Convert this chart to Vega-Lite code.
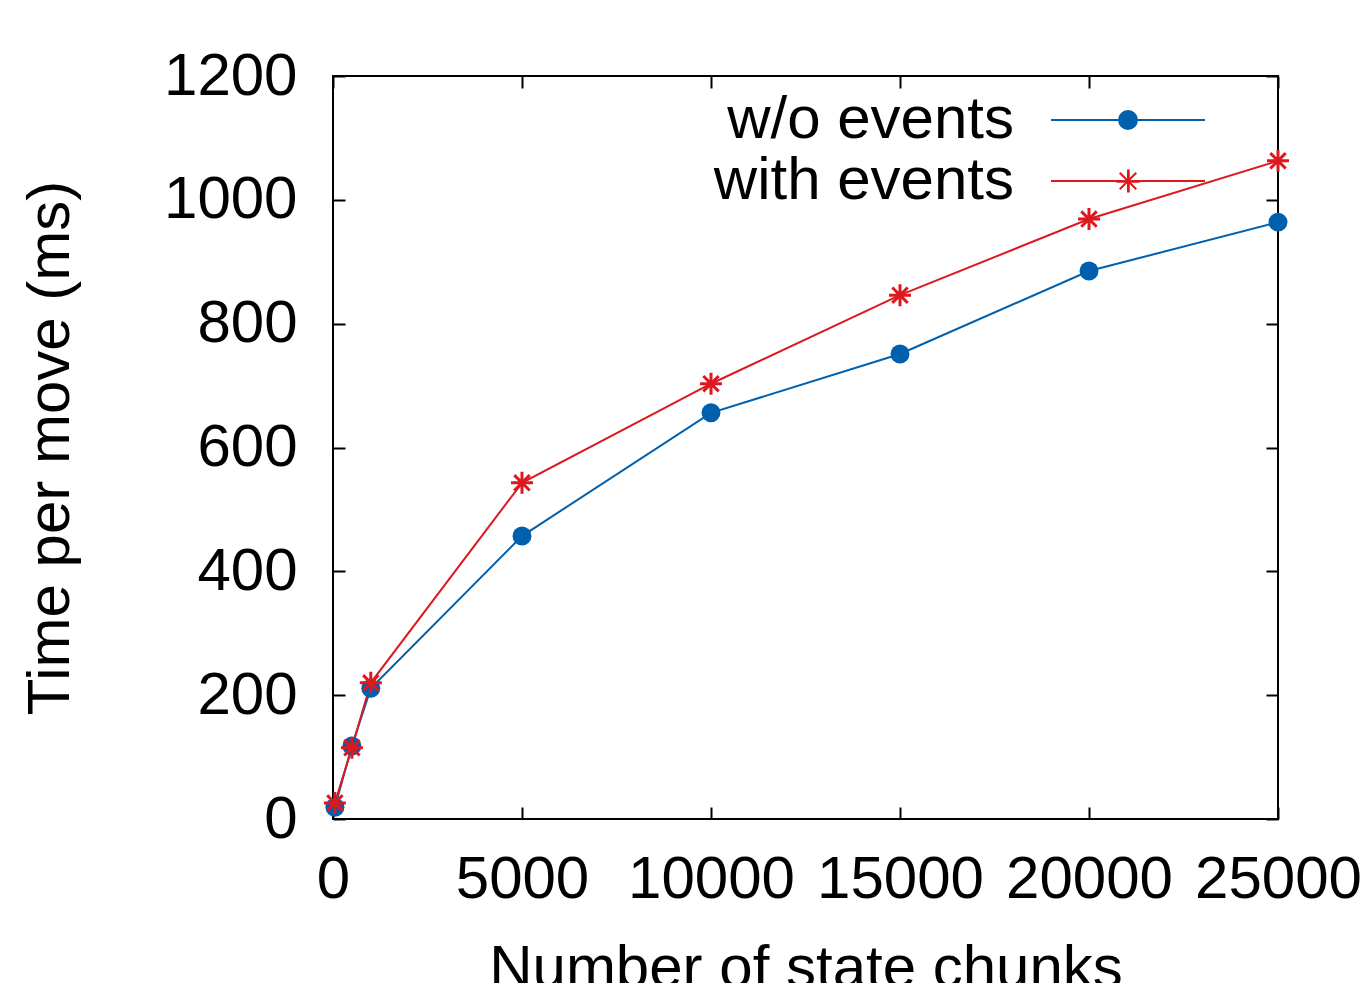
{
  "$schema": "https://vega.github.io/schema/vega-lite/v6.json",
  "width": 945,
  "height": 743,
  "autosize": "none",
  "padding": {"left": 333, "top": 76, "right": 93, "bottom": 164},
  "background": "white",
  "config": {
    "font": "Liberation Sans",
    "view": {"stroke": "black", "strokeWidth": 2},
    "axis": {
      "domain": false,
      "grid": false,
      "ticks": true,
      "tickColor": "black",
      "tickWidth": 2,
      "tickSize": -12,
      "labelFont": "Liberation Sans",
      "labelFontSize": 60,
      "labelColor": "black",
      "titleFont": "Liberation Sans",
      "titleFontSize": 60,
      "titleFontWeight": "normal",
      "titleColor": "black"
    }
  },
  "data": {
    "values": [
      {"series": "w/o events", "chunks": 50, "time": 19},
      {"series": "w/o events", "chunks": 500, "time": 118},
      {"series": "w/o events", "chunks": 1000, "time": 211},
      {"series": "w/o events", "chunks": 5000, "time": 457},
      {"series": "w/o events", "chunks": 10000, "time": 656},
      {"series": "w/o events", "chunks": 15000, "time": 751},
      {"series": "w/o events", "chunks": 20000, "time": 885},
      {"series": "w/o events", "chunks": 25000, "time": 964},
      {"series": "with events", "chunks": 50, "time": 26},
      {"series": "with events", "chunks": 500, "time": 115},
      {"series": "with events", "chunks": 1000, "time": 220},
      {"series": "with events", "chunks": 5000, "time": 543},
      {"series": "with events", "chunks": 10000, "time": 703},
      {"series": "with events", "chunks": 15000, "time": 846},
      {"series": "with events", "chunks": 20000, "time": 969},
      {"series": "with events", "chunks": 25000, "time": 1063}
    ]
  },
  "layer": [
    {
      "mark": {"type": "line", "strokeWidth": 2, "clip": false},
      "encoding": {
        "x": {
          "field": "chunks", "type": "quantitative",
          "scale": {"domain": [0, 25000], "nice": false},
          "axis": {"orient": "bottom", "values": [0, 5000, 10000, 15000, 20000, 25000], "format": "d", "title": "Number of state chunks", "labelPadding": 43, "titlePadding": 30, "labelFlush": false}
        },
        "y": {
          "field": "time", "type": "quantitative",
          "scale": {"domain": [0, 1200], "nice": false},
          "axis": {"orient": "left", "values": [0, 200, 400, 600, 800, 1000, 1200], "format": "d", "title": "Time per move (ms)", "labelPadding": 48, "titlePadding": 82, "labelFlush": false}
        },
        "color": {
          "field": "series", "type": "nominal",
          "scale": {"domain": ["w/o events", "with events"], "range": ["#0060ad", "#dd181f"]},
          "legend": {
            "orient": "none",
            "legendX": 375,
            "legendY": 14,
            "title": null,
            "labelFont": "Liberation Sans",
            "labelFontSize": 60,
            "labelColor": "black",
            "labelLimit": 500,
            "labelAlign": "right",
            "labelOffset": -144,
            "symbolOffset": 390,
            "symbolSize": 2500,
            "symbolStrokeWidth": 2,
            "rowPadding": 1,
            "encode": {
              "symbols": {
                "update": {
                  "shape": {"signal": "datum.value === 'w/o events' ? 'M-3.08,0H3.08M0.36,0A0.36,0.36 0 1,1 -0.36,0A0.36,0.36 0 1,1 0.36,0' : 'M-3.08,0H3.08M-0.46,0H0.46M0,-0.46V0.46M-0.33,-0.33L0.33,0.33M-0.33,0.33L0.33,-0.33M-0.46,0.03H0.46M0.03,-0.46V0.46'"},
                  "fill": {"signal": "datum.value === 'w/o events' ? '#0060ad' : 'transparent'"},
                  "fillOpacity": {"value": 1}
                }
              }
            }
          }
        }
      }
    },
    {
      "mark": {"type": "point", "filled": true, "clip": false, "opacity": 1},
      "transform": [{"filter": "datum.series === 'w/o events'"}],
      "encoding": {
        "x": {"field": "chunks", "type": "quantitative", "axis": {"orient": "top", "labels": false, "title": null, "values": [0, 5000, 10000, 15000, 20000, 25000]}},
        "y": {"field": "time", "type": "quantitative", "axis": {"orient": "right", "labels": false, "title": null, "values": [0, 200, 400, 600, 800, 1000, 1200]}},
        "color": {"field": "series", "type": "nominal", "legend": null},
        "shape": {"value": "circle"},
        "size": {"value": 360}
      }
    },
    {
      "mark": {"type": "point", "filled": false, "clip": false, "strokeWidth": 3, "opacity": 1},
      "transform": [{"filter": "datum.series === 'with events'"}],
      "encoding": {
        "x": {"field": "chunks", "type": "quantitative", "axis": null},
        "y": {"field": "time", "type": "quantitative", "axis": null},
        "color": {"field": "series", "type": "nominal", "legend": null},
        "shape": {"value": "M-1,0H1M0,-1V1M-0.7,-0.7L0.7,0.7M-0.7,0.7L0.7,-0.7"},
        "size": {"value": 484}
      }
    }
  ],
  "resolve": {"axis": {"x": "independent", "y": "independent"}}
}
